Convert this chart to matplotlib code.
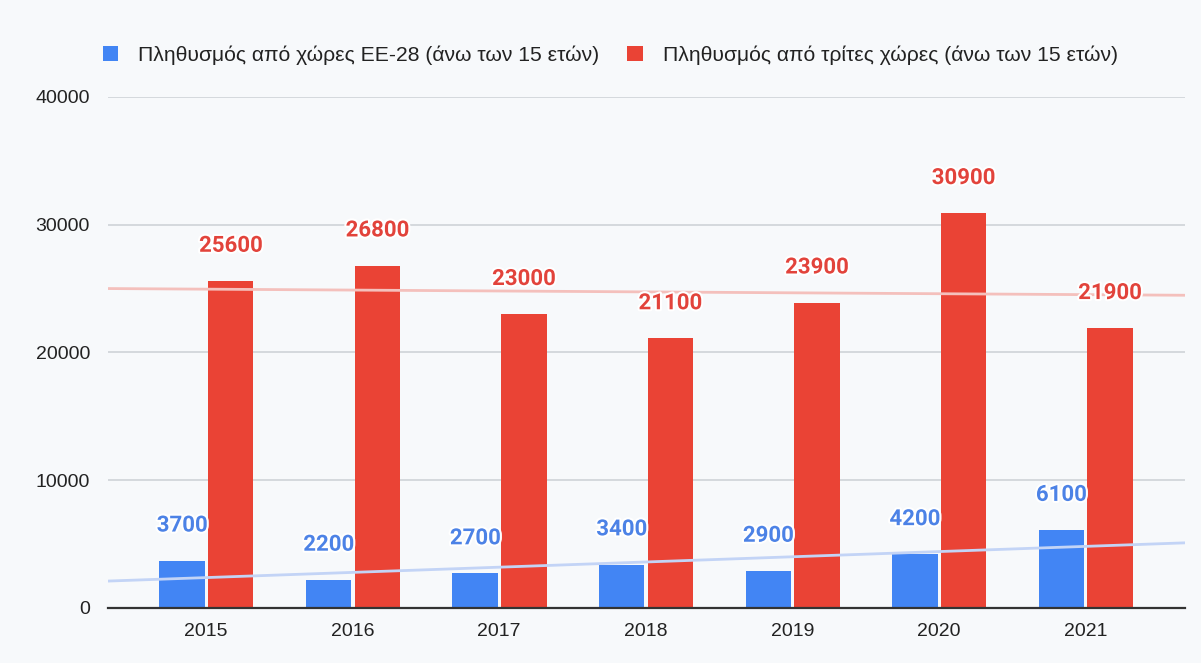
import matplotlib
matplotlib.use('Agg')
import matplotlib.pyplot as plt
import matplotlib.patheffects as pe
import numpy as np

# Δεδομένα
years = ['2015', '2016', '2017', '2018', '2019', '2020', '2021']
eu28 = [3700, 2200, 2700, 3400, 2900, 4200, 6100]
third = [25600, 26800, 23000, 21100, 23900, 30900, 21900]
labels = ['Πληθυσμός από χώρες ΕΕ-28 (άνω των 15 ετών)',
          'Πληθυσμός από τρίτες χώρες (άνω των 15 ετών)']
yticks = [0, 10000, 20000, 30000, 40000]

blue = '#4285f4'
red = '#ea4335'
bg = '#f7f9fb'

fig = plt.figure(figsize=(12.01, 6.63), dpi=100, facecolor=bg)
ax = fig.add_axes([0.0899, 0.083, 0.8968, 0.7707], facecolor=bg)

x = np.arange(len(years))
w = 0.31
b1 = ax.bar(x - 0.164, eu28, w, color=blue, label=labels[0], zorder=2)
b2 = ax.bar(x + 0.168, third, w, color=red, label=labels[1], zorder=2)

# trendlines (linear fit)
xl = np.array([-0.67, 6.68])
for vals, c in [(eu28, '#c3d4f6'), (third, '#f4c0bc')]:
    k, d = np.polyfit(x, vals, 1)
    ax.plot(xl, k * xl + d, color=c, lw=2, zorder=3)

# data labels
halo = [pe.withStroke(linewidth=3, foreground='white')]
for bars, vals, c in [(b1, eu28, '#4c82e6'), (b2, third, '#e2433b')]:
    for r, v in zip(bars, vals):
        ax.annotate(str(v), (r.get_x() + r.get_width() / 2, v),
                    xytext=(0, 21), textcoords='offset points',
                    ha='center', va='baseline', fontsize=16,
                    fontweight='bold', family='Roboto', color=c,
                    path_effects=halo, zorder=5)

ax.set_xlim(-0.67, 6.68)
ax.set_ylim(0, 40000)
ax.set_yticks(yticks)
ax.set_yticklabels([str(t) for t in yticks])
ax.set_xticks(x)
ax.set_xticklabels(years)
ax.grid(axis='y', color='#cfd3d8', lw=1.2, zorder=0)
ax.set_axisbelow(True)
for s in ['top', 'right', 'left']:
    ax.spines[s].set_visible(False)
ax.spines['bottom'].set_color('#333333')
ax.spines['bottom'].set_linewidth(1.6)
ax.spines['bottom'].set_zorder(4)
ax.tick_params(length=0, labelsize=14, colors='#222222')
ax.tick_params(axis='y', pad=13)
ax.tick_params(axis='x', pad=11)
for t in ax.get_xticklabels() + ax.get_yticklabels():
    t.set_family('Liberation Sans')

leg = fig.legend(handles=[b1, b2], loc='center', bbox_to_anchor=(0.508, 0.917),
                 ncol=2, frameon=False, handlelength=0.72, handleheight=0.72,
                 handletextpad=0.95, columnspacing=1.35,
                 prop={'family': 'Liberation Sans', 'size': 15.2})
for t in leg.get_texts():
    t.set_color('#222222')

fig.savefig('out.png', dpi=100, facecolor=bg)
